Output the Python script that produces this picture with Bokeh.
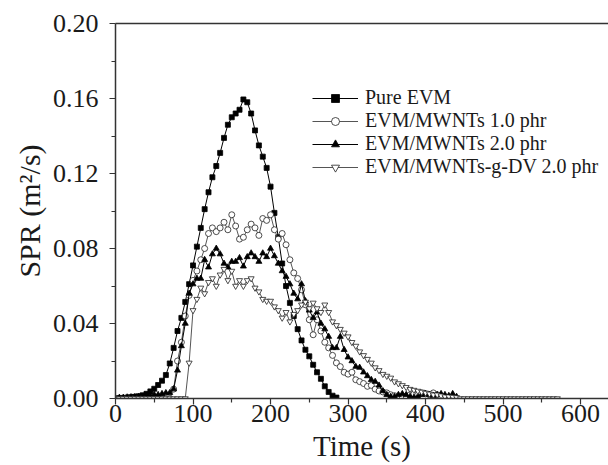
from bokeh.plotting import figure
from bokeh.models import (Range1d, FixedTicker, NumeralTickFormatter, LinearAxis)
from bokeh.embed import file_html
from bokeh.resources import INLINE

# ---- data (time in s, SPR in m2/s) ----
t_pure = list(range(0, 290, 5))
spr_pure = [0.0000, 0.0002, 0.0003, 0.0005, 0.0007, 0.0009, 0.0012, 0.0017, 0.0025, 0.0038,
            0.0052, 0.0072, 0.0095, 0.0125, 0.0187, 0.0270, 0.0360, 0.0430, 0.0515, 0.0610,
            0.0710, 0.0810, 0.0910, 0.1010, 0.1100, 0.1180, 0.1240, 0.1310, 0.1390, 0.1460,
            0.1500, 0.1520, 0.1540, 0.1595, 0.1580, 0.1520, 0.1430, 0.1350, 0.1290, 0.1230,
            0.1130, 0.0990, 0.0860, 0.0720, 0.0600, 0.0510, 0.0440, 0.0370, 0.0310, 0.0260,
            0.0225, 0.0180, 0.0140, 0.0105, 0.0065, 0.0035, 0.0015, 0.0005]

t_10 = list(range(0, 420, 5))
spr_10 = [0.0, 0.0, 0.0, 0.0, 0.0, 0.0, 0.0, 0.0, 0.0, 0.0,
          0.0, 0.0, 0.0, 0.0, 0.0, 0.005, 0.020, 0.030, 0.044, 0.055,
          0.063, 0.068, 0.074, 0.080, 0.088, 0.091, 0.089, 0.091, 0.094, 0.090,
          0.098, 0.092, 0.085, 0.086, 0.090, 0.093, 0.091, 0.087, 0.096, 0.095,
          0.098, 0.090, 0.085, 0.088, 0.082, 0.074, 0.067, 0.064, 0.058, 0.050,
          0.042, 0.034, 0.042, 0.036, 0.030, 0.027, 0.023, 0.019, 0.017, 0.014,
          0.013, 0.014, 0.010, 0.009, 0.008, 0.0065, 0.007, 0.005, 0.004, 0.0035,
          0.003, 0.002, 0.0015, 0.001, 0.0008, 0.0012, 0.002, 0.0025, 0.002, 0.003,
          0.0025, 0.002, 0.003, 0.002]

t_20 = list(range(0, 445, 5))
spr_20 = [0.0, 0.0005, 0.0005, 0.0007, 0.0008, 0.0009, 0.001, 0.001, 0.0012, 0.0015,
          0.002, 0.002, 0.0025, 0.003, 0.003, 0.005, 0.015, 0.028, 0.040, 0.056,
          0.061, 0.064, 0.064, 0.074, 0.070, 0.077, 0.080, 0.077, 0.072, 0.070,
          0.073, 0.073, 0.075, 0.0705, 0.0755, 0.0775, 0.0755, 0.073, 0.0775, 0.0755,
          0.080, 0.076, 0.072, 0.068, 0.065, 0.061, 0.056, 0.053, 0.061, 0.052,
          0.047, 0.043, 0.046, 0.040, 0.037, 0.033, 0.027, 0.027, 0.033, 0.026,
          0.022, 0.020, 0.017, 0.0165, 0.014, 0.012, 0.010, 0.009, 0.007, 0.004,
          0.002, 0.001, 0.001, 0.002, 0.0025, 0.002, 0.001, 0.0005, 0.001, 0.002,
          0.0025, 0.002, 0.0015, 0.002, 0.0025, 0.002, 0.0015, 0.0025, 0.001]

t_gdv = list(range(0, 575, 5))
spr_gdv = [0.0] * 19 + [
          0.019, 0.047, 0.053, 0.059, 0.056, 0.062, 0.064, 0.060, 0.066, 0.069,
          0.063, 0.068, 0.060, 0.063, 0.060, 0.063, 0.064, 0.059, 0.057, 0.053,
          0.052, 0.052, 0.049, 0.047, 0.043, 0.046, 0.041, 0.045, 0.047, 0.050,
          0.0515, 0.048, 0.051, 0.048, 0.046, 0.050, 0.046, 0.041, 0.039, 0.037,
          0.035, 0.033, 0.030, 0.028, 0.025, 0.023, 0.021, 0.019, 0.0165, 0.015,
          0.013, 0.012, 0.011, 0.009, 0.008, 0.007, 0.006, 0.005, 0.0045, 0.004,
          0.0035, 0.003, 0.0025, 0.002, 0.002, 0.0015, 0.001, 0.001, 0.0008, 0.0006] + [0.0] * 26

labels = ["Pure EVM", "EVM/MWNTs 1.0 phr", "EVM/MWNTs 2.0 phr", "EVM/MWNTs-g-DV 2.0 phr"]
x_ticks = [0, 100, 200, 300, 400, 500, 600]
y_ticks = [0.00, 0.04, 0.08, 0.12, 0.16, 0.20]

FONT = "Liberation Serif"
TXT = "#1a1a1a"

p = figure(width=608, height=465, output_backend="svg", toolbar_location=None,
           x_range=Range1d(0, 636), y_range=Range1d(0, 0.20),
           min_border_left=115, min_border_top=23, min_border_bottom=67, min_border_right=0,
           x_axis_label="Time (s)", y_axis_label="SPR (m²/s)")
p.outline_line_color = None
p.xgrid.visible = False
p.ygrid.visible = False
p.background_fill_color = "white"
p.border_fill_color = "white"

series = [
    (t_pure, spr_pure, "square", "black", "black", 5, labels[0]),
    (t_10, spr_10, "circle", "#555555", "white", 6, labels[1]),
    (t_20, spr_20, "triangle", "black", "black", 6, labels[2]),
    (t_gdv, spr_gdv, "inverted_triangle", "#555555", "white", 6, labels[3]),
]
for xs, ys, mk, lc, fc, sz, lab in series:
    p.line(xs, ys, line_color=lc, line_width=1, legend_label=lab)
    p.scatter(xs, ys, marker=mk, size=sz, line_color="#222222" if fc == "white" else lc,
              fill_color=fc, line_width=0.8, legend_label=lab)

for ax in (p.xaxis[0], p.yaxis[0]):
    ax.axis_line_color = "#333333"
    ax.axis_line_width = 1.5
    ax.major_tick_line_color = "#333333"
    ax.minor_tick_line_color = "#333333"
    ax.major_tick_line_width = 1.2
    ax.minor_tick_line_width = 1.2
    ax.major_tick_out = 6
    ax.major_tick_in = 0
    ax.minor_tick_out = 4
    ax.minor_tick_in = 0
    ax.major_label_text_font = FONT
    ax.major_label_text_font_size = "26px"
    ax.major_label_text_color = TXT
    ax.axis_label_text_font = FONT
    ax.axis_label_text_font_size = "29px"
    ax.axis_label_text_font_style = "normal"
    ax.axis_label_text_color = TXT
p.yaxis[0].axis_label_text_font_size = "30px"

p.xaxis[0].ticker = FixedTicker(ticks=x_ticks, minor_ticks=[50, 150, 250, 350, 450, 550])
p.yaxis[0].ticker = FixedTicker(ticks=y_ticks, minor_ticks=[0.02, 0.06, 0.10, 0.14, 0.18])
p.yaxis[0].formatter = NumeralTickFormatter(format="0.00")
p.xaxis[0].major_label_standoff = 0
p.yaxis[0].major_label_standoff = 11
p.xaxis[0].axis_label_standoff = 5
p.yaxis[0].axis_label_standoff = 4

# top frame line
top = LinearAxis(ticker=FixedTicker(ticks=[]), major_label_text_font_size="0px",
                 axis_line_color="#333333", axis_line_width=1.5,
                 major_tick_line_color=None, minor_tick_line_color=None)
p.add_layout(top, "above")

leg = p.legend[0]
leg.location = (197, 220)
leg.border_line_color = None
leg.background_fill_alpha = 0
leg.padding = 0
leg.margin = 0
leg.spacing = -1
leg.glyph_width = 46
leg.glyph_height = 20
leg.label_height = 20
leg.label_standoff = 7
leg.label_text_font = FONT
leg.label_text_font_size = "20px"
leg.label_text_color = TXT

open("out.html", "w").write(file_html(p, INLINE))
